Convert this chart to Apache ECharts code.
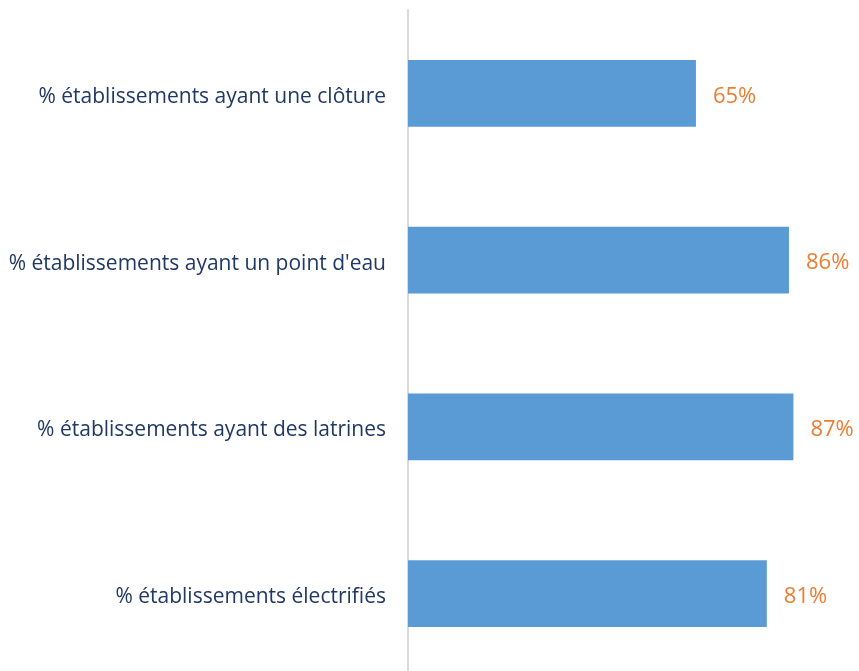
<!DOCTYPE html>
<html>
<head>
<meta charset="utf-8">
<script src="https://cdn.jsdelivr.net/npm/echarts@6/dist/echarts.min.js"></script>
<style>
  html, body { margin: 0; padding: 0; background: #ffffff; }
  #chart { width: 859px; height: 671px; }
</style>
</head>
<body>
<div id="chart"></div>
<script>
// Équipements des établissements (en %)
const categories = [
  "% établissements ayant une clôture",
  "% établissements ayant un point d'eau",
  "% établissements ayant des latrines",
  "% établissements électrifiés"
];
const values = [65, 86, 87, 81];

const chart = echarts.init(document.getElementById('chart'), null, { renderer: 'canvas' });
chart.setOption({
  animation: false,
  backgroundColor: '#ffffff',
  grid: { left: 408, top: 10, width: 443, height: 667, containLabel: false, outerBoundsMode: 'none' },
  xAxis: {
    type: 'value',
    min: 0,
    max: 100,
    show: false
  },
  yAxis: {
    type: 'category',
    data: categories,
    inverse: true,
    axisLine: { show: true, lineStyle: { color: '#d9d9d9', width: 2 } },
    axisTick: { show: false },
    axisLabel: {
      margin: 22,
      formatter: v => '{t|' + v + '}',
      rich: {
        t: {
          color: '#1f3864',
          fontFamily: 'Open Sans',
          fontSize: 21,
          padding: [7, 0, 0, 0]
        }
      }
    },
    splitLine: { show: false }
  },
  series: [{
    type: 'bar',
    data: values,
    barWidth: '40%',
    itemStyle: { color: '#5b9bd5' },
    label: {
      show: true,
      position: 'right',
      distance: 17,
      offset: [0, 3],
      formatter: p => p.value + '%',
      color: '#ed7d31',
      fontFamily: 'Open Sans',
      fontSize: 22
    }
  }]
});
</script>
</body>
</html>
